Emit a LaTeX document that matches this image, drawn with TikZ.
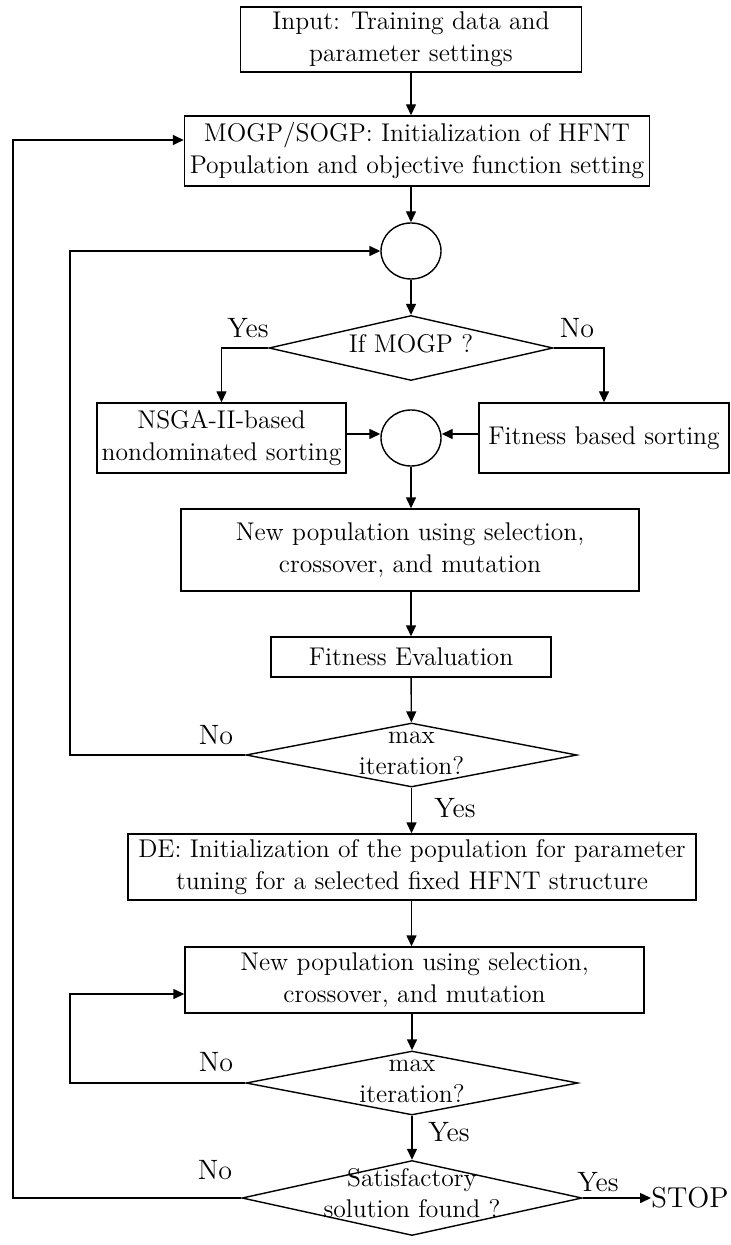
\documentclass[tikz,border=0pt]{standalone}
\usepackage{tikz}
\usetikzlibrary{arrows.meta,positioning,calc,shapes.geometric}
\tikzset{
  fcbox/.style={draw, line width=0.7pt, align=center, inner sep=2pt,
                font=\fontsize{12.8}{16}\selectfont},
  fcdec/.style={draw, diamond, line width=0.7pt, inner sep=0pt,
                font=\fontsize{12.8}{15.5}\selectfont},
  fcjoin/.style={draw, ellipse, line width=0.7pt, minimum width=30pt,
                 minimum height=28pt, inner sep=0pt},
  fcedge/.style={-{Triangle[length=5.5pt,width=5pt]}, line width=0.7pt},
  fclabel/.style={font=\fontsize{14}{16}\selectfont, inner sep=0pt},
}
% diamond text overlaps the outline, so it takes no room
\newcommand{\fctext}[1]{\smash{\makebox[0pt]{\raisebox{-2pt}{%
  \begin{tabular}{@{}c@{}}#1\end{tabular}}}}}

\begin{document}
\begin{tikzpicture}[x=0.5pt,y=0.5pt]
  \useasboundingbox (0,0) rectangle (731,-1245);

  \node[fcbox,minimum width=170.5pt,minimum height=32.5pt] (in) at (411,-39.5)
    {Input: Training data and\\parameter settings};
  \node[fcbox,minimum width=232.5pt,minimum height=35pt] (init) at (417,-151)
    {MOGP/SOGP: Initialization of HFNT\\Population and objective function setting};
  \node[fcjoin] (j1) at (411,-251) {};
  \node[fcdec,minimum width=142pt,minimum height=32.5pt] (mogp) at (411,-348)
    {\fctext{If MOGP ?}};
  \node[fcbox,minimum width=124.5pt,minimum height=35pt] (nsga) at (221.5,-438)
    {NSGA-II-based\\nondominated sorting};
  \node[fcjoin] (j2) at (411,-438) {};
  \node[fcbox,minimum width=125pt,minimum height=35pt] (fsort) at (604,-438)
    {Fitness based sorting};
  \node[fcbox,minimum width=229pt,minimum height=41pt] (newpop) at (410,-550)
    {New population using selection,\\crossover, and mutation};
  \node[fcbox,minimum width=140pt,minimum height=20pt] (fiteval) at (411,-657)
    {Fitness Evaluation};
  \node[fcdec,minimum width=165.5pt,minimum height=32pt] (max1) at (411.5,-755)
    {\fctext{max\\iteration?}};
  \node[fcbox,minimum width=284pt,minimum height=33pt] (de) at (412,-867)
    {DE: Initialization of the population for parameter\\tuning for a selected fixed HFNT structure};
  \node[fcbox,minimum width=229.5pt,minimum height=33pt] (newpop2) at (414.5,-980)
    {New population using selection,\\crossover, and mutation};
  \node[fcdec,minimum width=166pt,minimum height=32pt] (max2) at (412,-1083)
    {\fctext{max\\iteration?}};
  \node[fcdec,minimum width=170pt,minimum height=37.5pt] (sat) at (412,-1198)
    {\fctext{Satisfactory\\solution found ?}};
  \node[font=\fontsize{14.4}{17}\selectfont,inner sep=0pt] (stop) at (690,-1198) {STOP};

  % branch labels
  \node[fclabel] (yes1) at (248,-328) {Yes};
  \node[fclabel] (no1) at (577,-328) {No};
  \node[fclabel] (no2) at (216,-735) {No};
  \node[fclabel] (yes2) at (455,-808) {Yes};
  \node[fclabel] (no3) at (216,-1062) {No};
  \node[fclabel] (yes3) at (449,-1132) {Yes};
  \node[fclabel] (no4) at (215,-1170) {No};
  \node[fclabel] (yes4) at (598,-1182) {Yes};

  \coordinate (loopa) at (70,-755);
  \coordinate (loopb) at (70,-1083);
  \coordinate (loopc) at (13,-1198);

  \draw[fcedge] (in.south) -- (in.south |- init.north);
  \draw[fcedge] (j1.north |- init.south) -- (j1.north);
  \draw[fcedge] (j1) -- (mogp);
  \draw[fcedge] (mogp.west) -| (nsga.north);
  \draw[fcedge] (mogp.east) -| (fsort.north);
  \draw[fcedge] ([yshift=2pt]nsga.east) -- ([yshift=2pt]j2.west);
  \draw[fcedge] ([yshift=2pt]fsort.west) -- ([yshift=2pt]j2.east);
  \draw[fcedge] (j2.south) -- (j2.south |- newpop.north);
  \draw[fcedge] (fiteval.north |- newpop.south) -- (fiteval.north);
  \draw[fcedge] (fiteval) -- (max1);
  \draw[fcedge] (max1.west) -- (loopa) |- (j1.west);
  \draw[fcedge] (max1.south) -- (max1.south |- de.north);
  \draw[fcedge] (max1.south |- de.south) -- (max1.south |- newpop2.north);
  \draw[fcedge] (max2.north |- newpop2.south) -- (max2.north);
  \draw[fcedge] (max2.west) -- (loopb) |- ([yshift=-7pt]newpop2.west);
  \draw[fcedge] (max2) -- (sat);
  \draw[fcedge] (sat.west) -- (loopc) |- ([yshift=5.5pt]init.west);
  \draw[fcedge] (sat.east) -- (stop.west);
\end{tikzpicture}
\end{document}
